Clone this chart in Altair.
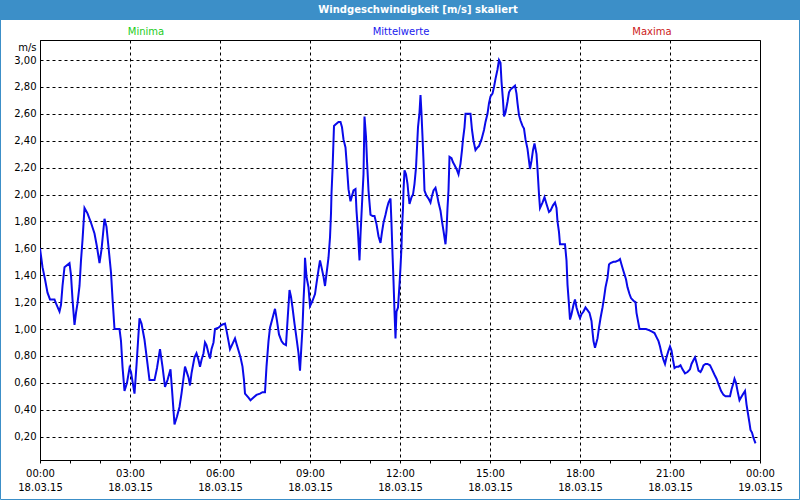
import json
import altair as alt
import pandas as pd

# ---------------- data ----------------
minutes = [
    0, 5, 10, 15, 20, 29, 32, 39, 42, 45, 49, 59, 62, 65, 69, 72, 75, 79, 82, 85,
    89, 95, 102, 109, 114, 119, 123, 129, 133, 137, 142, 145, 149, 159, 162, 165, 169, 174, 179, 182,
    185, 189, 193, 199, 203, 209, 214, 219, 229, 234, 240, 245, 250, 255, 261, 264, 269, 274, 279, 283,
    290, 297, 300, 303, 309, 313, 317, 320, 323, 327, 330, 333, 337, 340, 343, 347, 350, 357, 363, 370,
    373, 377, 380, 385, 390, 393, 397, 401, 405, 408, 410, 417, 421, 427, 433, 440, 445, 450, 453, 457,
    460, 465, 470, 474, 478, 483, 487, 492, 495, 499, 502, 505, 509, 512, 517, 520, 522, 525, 527, 529,
    530, 533, 537, 540, 545, 550, 553, 557, 560, 563, 567, 570, 573, 577, 580, 582, 583, 585, 588, 591,
    597, 601, 604, 607, 611, 614, 617, 621, 624, 627, 631, 633, 636, 639, 641, 644, 647, 649, 652, 654,
    657, 661, 665, 669, 673, 677, 681, 684, 687, 691, 694, 697, 701, 703, 705, 707, 709, 711, 713, 716,
    719, 721, 723, 724, 726, 727, 729, 732, 735, 737, 739, 743, 746, 749, 752, 754, 756, 759, 761, 763,
    765, 767, 769, 773, 777, 781, 784, 787, 791, 794, 797, 801, 804, 807, 811, 813, 815, 817, 819, 823,
    826, 829, 833, 837, 841, 844, 846, 849, 851, 856, 861, 864, 867, 871, 875, 878, 883, 888, 891, 895,
    898, 901, 905, 908, 911, 915, 918, 921, 923, 926, 928, 931, 935, 938, 941, 947, 950, 953, 955, 958,
    961, 965, 968, 971, 975, 978, 980, 983, 986, 989, 993, 995, 998, 1000, 1005, 1009, 1013, 1018, 1021, 1026,
    1030, 1033, 1035, 1038, 1040, 1045, 1050, 1053, 1055, 1058, 1060, 1063, 1067, 1070, 1073, 1077, 1080, 1083, 1087, 1091,
    1095, 1099, 1103, 1105, 1107, 1110, 1115, 1118, 1121, 1125, 1128, 1131, 1135, 1138, 1141, 1147, 1151, 1157, 1160, 1163,
    1167, 1172, 1175, 1179, 1182, 1187, 1191, 1193, 1197, 1199, 1205, 1212, 1219, 1224, 1229, 1233, 1237, 1240, 1243, 1247,
    1250, 1253, 1257, 1260, 1263, 1266, 1269, 1273, 1277, 1281, 1285, 1290, 1295, 1300, 1303, 1307, 1310, 1313, 1317, 1321,
    1324, 1327, 1331, 1335, 1340, 1344, 1349, 1353, 1357, 1362, 1367, 1371, 1375, 1380, 1383, 1387, 1389, 1392, 1395, 1399,
    1402, 1405, 1410, 1413, 1416, 1419, 1421, 1424, 1427, 1431,
]
speed = [
    1.60, 1.46, 1.37, 1.27, 1.22, 1.22, 1.19, 1.13, 1.18, 1.32, 1.46, 1.49, 1.40, 1.22, 1.03, 1.12, 1.19, 1.32, 1.51, 1.66,
    1.90, 1.86, 1.79, 1.71, 1.61, 1.49, 1.59, 1.82, 1.76, 1.61, 1.42, 1.23, 1.00, 1.00, 0.91, 0.72, 0.54, 0.60, 0.71, 0.68,
    0.61, 0.52, 0.73, 1.08, 1.04, 0.92, 0.77, 0.62, 0.62, 0.71, 0.85, 0.72, 0.57, 0.62, 0.70, 0.55, 0.29, 0.35, 0.42, 0.52,
    0.72, 0.64, 0.58, 0.67, 0.79, 0.82, 0.77, 0.72, 0.77, 0.82, 0.90, 0.88, 0.82, 0.78, 0.85, 0.90, 1.00, 1.01, 1.03, 1.04,
    0.99, 0.91, 0.85, 0.89, 0.93, 0.89, 0.84, 0.79, 0.72, 0.62, 0.52, 0.49, 0.47, 0.49, 0.51, 0.52, 0.53, 0.53, 0.72, 0.91,
    1.01, 1.08, 1.15, 1.06, 0.96, 0.91, 0.89, 0.88, 1.06, 1.29, 1.24, 1.16, 1.04, 0.96, 0.82, 0.69, 0.82, 1.01, 1.21, 1.36,
    1.53, 1.39, 1.31, 1.17, 1.21, 1.26, 1.34, 1.44, 1.51, 1.46, 1.39, 1.32, 1.41, 1.53, 1.68, 1.86, 2.01, 2.18, 2.51, 2.52,
    2.54, 2.54, 2.50, 2.41, 2.35, 2.20, 2.04, 1.95, 1.99, 2.03, 2.04, 1.88, 1.72, 1.51, 1.70, 1.93, 2.15, 2.58, 2.43, 2.25,
    2.03, 1.85, 1.84, 1.84, 1.78, 1.69, 1.64, 1.72, 1.79, 1.85, 1.90, 1.94, 1.97, 1.78, 1.56, 1.36, 1.13, 0.93, 1.13, 1.16,
    1.33, 1.46, 1.61, 1.75, 1.90, 2.03, 2.18, 2.15, 2.08, 2.00, 1.93, 1.98, 2.00, 2.08, 2.20, 2.35, 2.50, 2.61, 2.74, 2.60,
    2.43, 2.25, 2.03, 1.99, 1.97, 1.94, 1.99, 2.03, 2.05, 2.00, 1.94, 1.88, 1.80, 1.73, 1.63, 1.73, 1.90, 2.03, 2.28, 2.27,
    2.24, 2.22, 2.19, 2.15, 2.23, 2.33, 2.41, 2.50, 2.60, 2.60, 2.60, 2.48, 2.40, 2.33, 2.35, 2.36, 2.41, 2.48, 2.54, 2.60,
    2.68, 2.73, 2.75, 2.80, 2.86, 2.93, 3.00, 2.98, 2.84, 2.70, 2.58, 2.61, 2.69, 2.76, 2.78, 2.80, 2.81, 2.75, 2.68, 2.59,
    2.55, 2.51, 2.49, 2.41, 2.34, 2.25, 2.19, 2.25, 2.33, 2.38, 2.30, 2.19, 2.00, 1.90, 1.94, 1.98, 1.93, 1.87, 1.88, 1.92,
    1.94, 1.90, 1.80, 1.72, 1.63, 1.63, 1.63, 1.51, 1.33, 1.18, 1.07, 1.11, 1.18, 1.22, 1.16, 1.11, 1.08, 1.11, 1.13, 1.16,
    1.14, 1.12, 1.06, 0.98, 0.91, 0.86, 0.93, 1.01, 1.08, 1.16, 1.23, 1.31, 1.38, 1.48, 1.49, 1.50, 1.50, 1.51, 1.52, 1.48,
    1.43, 1.37, 1.31, 1.26, 1.23, 1.21, 1.20, 1.12, 1.04, 1.00, 1.00, 1.00, 0.99, 0.98, 0.97, 0.94, 0.91, 0.87, 0.82, 0.77,
    0.74, 0.79, 0.84, 0.87, 0.84, 0.77, 0.71, 0.72, 0.72, 0.73, 0.70, 0.67, 0.68, 0.70, 0.74, 0.77, 0.79, 0.75, 0.69, 0.68,
    0.70, 0.73, 0.74, 0.74, 0.73, 0.70, 0.66, 0.63, 0.59, 0.54, 0.51, 0.50, 0.50, 0.50, 0.55, 0.60, 0.63, 0.60, 0.54, 0.47,
    0.49, 0.51, 0.54, 0.44, 0.37, 0.30, 0.25, 0.23, 0.19, 0.15,
]

y_ticks = [0.2, 0.4, 0.6, 0.8, 1.0, 1.2, 1.4, 1.6, 1.8, 2.0, 2.2, 2.4, 2.6, 2.8, 3.0]
x_tick_minutes = list(range(0, 1441, 60))
time_labels = ["00:00", "03:00", "06:00", "09:00", "12:00", "15:00", "18:00", "21:00", "00:00"]
date_labels = ["18.03.15"] * 8 + ["19.03.15"]
legend_labels = ["Minima", "Mittelwerte", "Maxima"]
legend_colors = ["#1ccc1c", "#1a1aee", "#cc1a1a"]
chart_title = "Windgeschwindigkeit [m/s] skaliert"
unit_label = "m/s"

df = pd.DataFrame({"t": minutes, "v": speed})

FONT = "DejaVu Sans"
FRAME_BLUE = "#3c8fc8"

x_label_expr = (
    "datum.value % 180 === 0 ? ["
    + json.dumps(time_labels) + "[datum.value / 180], "
    + json.dumps(date_labels) + "[datum.value / 180]] : ''"
)

line = alt.Chart(df).mark_line(color="#0a0aea", strokeWidth=2, clip=True).encode(
    x=alt.X(
        "t:Q",
        scale=alt.Scale(domain=[0, 1440], nice=False, zero=False),
        axis=alt.Axis(
            values=x_tick_minutes,
            labelExpr=x_label_expr,
            tickSize=3,
            tickColor="black",
            domainColor="black",
            grid=True,
            gridColor="black",
            gridDash=[3, 3],
            gridOpacity={"condition": {"test": "datum.value % 180 === 0", "value": 1}, "value": 0},
            labelFlush=False,
            labelOverlap=False,
            labelBound=False,
            labelPadding=5,
            labelLineHeight=14.5,
            labelBaseline="top",
            labelFont=FONT,
            labelFontSize=10,
            labelColor="black",
            title=None,
        ),
    ),
    y=alt.Y(
        "v:Q",
        scale=alt.Scale(domain=[0.026, 3.149], nice=False, zero=False),
        axis=alt.Axis(
            values=y_ticks,
            labelExpr="replace(format(datum.value, '.2f'), '.', ',')",
            ticks=False,
            labelPadding=4,
            labelFlush=False,
            labelOverlap=False,
            labelFont=FONT,
            labelFontSize=10,
            labelColor="black",
            grid=True,
            gridColor="black",
            gridDash=[3, 3],
            domainColor="black",
            title=unit_label,
            titleAngle=0,
            titleAlign="right",
            titleBaseline="middle",
            titleX=-4,
            titleY=7,
            titleFont=FONT,
            titleFontSize=10,
            titleFontWeight="normal",
            titleColor="black",
        ),
    ),
)

blank = alt.Data(values=[{}])

title_bar = alt.Chart(blank).mark_rect(color=FRAME_BLUE).encode(
    x=alt.value(-40), x2=alt.value(760), y=alt.value(-40), y2=alt.value(-20)
)
title_text = alt.Chart(blank).mark_text(
    text=chart_title, font=FONT, fontSize=10, fontWeight="bold", color="white",
    align="center", baseline="middle",
).encode(x=alt.value(378), y=alt.value(-30))

frame = alt.Chart(blank).mark_rect(filled=False, stroke=FRAME_BLUE, strokeWidth=1).encode(
    x=alt.value(-39.5), x2=alt.value(759.5), y=alt.value(-39.5), y2=alt.value(459.5)
)

legend_x = [106, 361, 612]
legend_layers = [
    alt.Chart(blank).mark_text(
        text=lbl, font=FONT, fontSize=10, color=col, align="center", baseline="middle"
    ).encode(x=alt.value(px), y=alt.value(-8))
    for lbl, col, px in zip(legend_labels, legend_colors, legend_x)
]

chart = alt.layer(title_bar, frame, line, title_text, *legend_layers).properties(
    width=720,
    height=420,
    autosize=alt.AutoSizeParams(type="none"),
    padding={"left": 40, "top": 40, "right": 40, "bottom": 40},
    background="white",
).configure_view(stroke="black", strokeWidth=1)

chart.save("out.html", embed_options={"renderer": "svg", "actions": False})
